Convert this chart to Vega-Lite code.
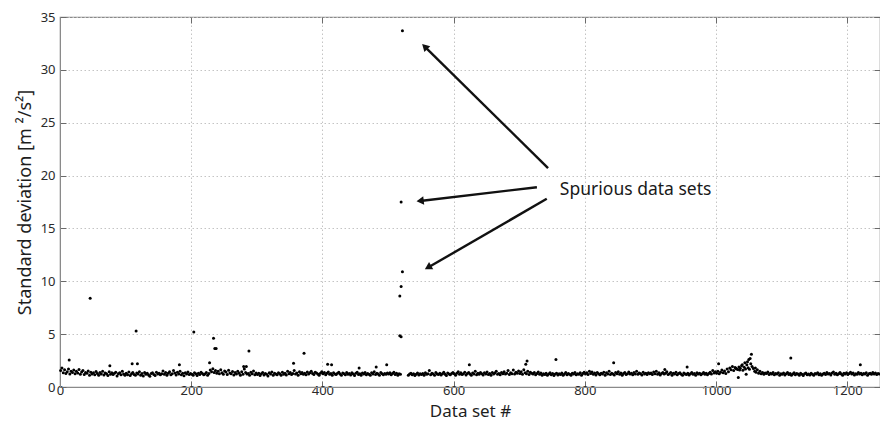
{
  "$schema": "https://vega.github.io/schema/vega-lite/v6.json",
  "width": 820,
  "height": 370,
  "autosize": {"type": "none"},
  "padding": {"left": 60, "top": 17, "right": 0, "bottom": 37},
  "background": "white",
  "config": {
    "font": "Noto Sans",
    "view": {"stroke": "#8a8a8a", "strokeWidth": 1.2},
    "axis": {
      "labelFont": "Noto Sans",
      "titleFont": "Noto Sans",
      "labelColor": "#2a2a2a",
      "titleColor": "#1e1e1e",
      "labelFontSize": 13,
      "titleFontSize": 17,
      "titleFontWeight": "normal",
      "domainColor": "#8a8a8a",
      "tickColor": "#6a6a6a",
      "tickSize": -6,
      "gridColor": "#c4c4c4",
      "gridDash": [1.5, 2.5],
      "gridWidth": 1
    }
  },
  "datasets": {
    "sets": [
      {"n":1,"s":1.55},{"n":3,"s":1.8},{"n":5,"s":1.35},{"n":7,"s":1.62},{"n":9,"s":1.28},{"n":11,"s":1.45},{"n":13,"s":1.7},{"n":15,"s":1.22},{"n":17,"s":1.5},{"n":19,"s":1.38},
      {"n":21,"s":1.6},{"n":23,"s":1.25},{"n":25,"s":1.48},{"n":27,"s":1.33},{"n":29,"s":1.66},{"n":31,"s":1.2},{"n":33,"s":1.42},{"n":35,"s":1.55},{"n":37,"s":1.18},{"n":39,"s":1.36},
      {"n":41,"s":1.3},{"n":43,"s":1.52},{"n":45,"s":1.12},{"n":47,"s":1.4},{"n":49,"s":1.24},{"n":51,"s":1.35},{"n":53,"s":1.15},{"n":55,"s":1.46},{"n":57,"s":1.28},{"n":59,"s":1.1},
      {"n":61,"s":1.38},{"n":63,"s":1.22},{"n":65,"s":1.5},{"n":67,"s":1.14},{"n":69,"s":1.32},{"n":71,"s":1.26},{"n":73,"s":1.08},{"n":75,"s":1.44},{"n":77,"s":1.2},{"n":79,"s":1.35},
      {"n":81,"s":1.18},{"n":83,"s":1.29},{"n":85,"s":1.4},{"n":87,"s":1.05},{"n":89,"s":1.25},{"n":91,"s":1.34},{"n":93,"s":1.16},{"n":95,"s":1.48},{"n":97,"s":1.22},{"n":99,"s":1.12},
      {"n":101,"s":1.3},{"n":103,"s":1.15},{"n":105,"s":1.42},{"n":107,"s":1.08},{"n":109,"s":1.26},{"n":111,"s":1.36},{"n":113,"s":1.19},{"n":115,"s":1.1},{"n":117,"s":1.33},{"n":119,"s":1.24},
      {"n":121,"s":1.45},{"n":123,"s":1.12},{"n":125,"s":1.28},{"n":127,"s":1.05},{"n":129,"s":1.38},{"n":131,"s":1.21},{"n":133,"s":1.3},{"n":135,"s":1.14},{"n":137,"s":1.02},{"n":139,"s":1.27},
      {"n":141,"s":1.35},{"n":143,"s":1.18},{"n":145,"s":1.09},{"n":147,"s":1.4},{"n":149,"s":1.23},{"n":151,"s":1.31},{"n":153,"s":1.15},{"n":155,"s":1.26},{"n":157,"s":1.52},{"n":159,"s":1.2},
      {"n":161,"s":1.37},{"n":163,"s":1.11},{"n":165,"s":1.29},{"n":167,"s":1.44},{"n":169,"s":1.17},{"n":171,"s":1.25},{"n":173,"s":1.55},{"n":175,"s":1.32},{"n":177,"s":1.13},{"n":179,"s":1.39},
      {"n":181,"s":1.22},{"n":183,"s":1.48},{"n":185,"s":1.16},{"n":187,"s":1.3},{"n":189,"s":1.06},{"n":191,"s":1.35},{"n":193,"s":1.24},{"n":195,"s":1.41},{"n":197,"s":1.19},{"n":199,"s":1.28},
      {"n":201,"s":1.2},{"n":203,"s":1.12},{"n":205,"s":1.34},{"n":207,"s":1.25},{"n":209,"s":1.08},{"n":211,"s":1.3},{"n":213,"s":1.18},{"n":215,"s":1.4},{"n":217,"s":1.27},{"n":219,"s":1.15},
      {"n":221,"s":1.22},{"n":223,"s":1.36},{"n":225,"s":1.1},{"n":227,"s":1.28},{"n":229,"s":1.6},{"n":231,"s":1.45},{"n":233,"s":1.72},{"n":235,"s":1.38},{"n":237,"s":1.55},{"n":239,"s":1.3},
      {"n":241,"s":1.48},{"n":243,"s":1.25},{"n":245,"s":1.62},{"n":247,"s":1.35},{"n":249,"s":1.2},{"n":251,"s":1.52},{"n":253,"s":1.42},{"n":255,"s":1.18},{"n":257,"s":1.58},{"n":259,"s":1.33},
      {"n":261,"s":1.26},{"n":263,"s":1.46},{"n":265,"s":1.14},{"n":267,"s":1.38},{"n":269,"s":1.24},{"n":271,"s":1.5},{"n":273,"s":1.3},{"n":275,"s":1.12},{"n":277,"s":1.44},{"n":279,"s":1.2},
      {"n":281,"s":1.7},{"n":283,"s":1.36},{"n":285,"s":1.22},{"n":287,"s":1.28},{"n":289,"s":1.1},{"n":291,"s":1.4},{"n":293,"s":1.25},{"n":295,"s":1.52},{"n":297,"s":1.16},{"n":299,"s":1.32},
      {"n":301,"s":1.18},{"n":303,"s":1.3},{"n":305,"s":1.08},{"n":307,"s":1.25},{"n":309,"s":1.38},{"n":311,"s":1.14},{"n":313,"s":1.28},{"n":315,"s":1.2},{"n":317,"s":1.05},{"n":319,"s":1.35},
      {"n":321,"s":1.24},{"n":323,"s":1.42},{"n":325,"s":1.12},{"n":327,"s":1.3},{"n":329,"s":1.22},{"n":331,"s":1.16},{"n":333,"s":1.34},{"n":335,"s":1.26},{"n":337,"s":1.1},{"n":339,"s":1.4},
      {"n":341,"s":1.2},{"n":343,"s":1.3},{"n":345,"s":1.14},{"n":347,"s":1.48},{"n":349,"s":1.25},{"n":351,"s":1.36},{"n":353,"s":1.18},{"n":355,"s":1.28},{"n":357,"s":1.55},{"n":359,"s":1.22},
      {"n":361,"s":1.32},{"n":363,"s":1.12},{"n":365,"s":1.44},{"n":367,"s":1.26},{"n":369,"s":1.38},{"n":371,"s":1.2},{"n":373,"s":1.3},{"n":375,"s":1.15},{"n":377,"s":1.42},{"n":379,"s":1.24},
      {"n":381,"s":1.35},{"n":383,"s":1.5},{"n":385,"s":1.28},{"n":387,"s":1.18},{"n":389,"s":1.4},{"n":391,"s":1.32},{"n":393,"s":1.22},{"n":395,"s":1.12},{"n":397,"s":1.3},{"n":399,"s":1.45},
      {"n":401,"s":1.25},{"n":403,"s":1.38},{"n":405,"s":1.15},{"n":407,"s":1.3},{"n":409,"s":1.42},{"n":411,"s":1.2},{"n":413,"s":1.28},{"n":415,"s":1.12},{"n":417,"s":1.35},{"n":419,"s":1.24},
      {"n":421,"s":1.18},{"n":423,"s":1.3},{"n":425,"s":1.4},{"n":427,"s":1.22},{"n":429,"s":1.1},{"n":431,"s":1.32},{"n":433,"s":1.26},{"n":435,"s":1.16},{"n":437,"s":1.36},{"n":439,"s":1.2},
      {"n":441,"s":1.28},{"n":443,"s":1.14},{"n":445,"s":1.34},{"n":447,"s":1.22},{"n":449,"s":1.08},{"n":451,"s":1.3},{"n":453,"s":1.4},{"n":455,"s":1.18},{"n":457,"s":1.26},{"n":459,"s":1.12},
      {"n":461,"s":1.32},{"n":463,"s":1.22},{"n":465,"s":1.38},{"n":467,"s":1.15},{"n":469,"s":1.28},{"n":471,"s":1.2},{"n":473,"s":1.1},{"n":475,"s":1.34},{"n":477,"s":1.24},{"n":479,"s":1.44},
      {"n":481,"s":1.18},{"n":483,"s":1.3},{"n":485,"s":1.22},{"n":487,"s":1.12},{"n":489,"s":1.36},{"n":491,"s":1.26},{"n":493,"s":1.16},{"n":495,"s":1.28},{"n":497,"s":1.2},{"n":499,"s":1.32},
      {"n":501,"s":1.22},{"n":503,"s":1.35},{"n":505,"s":1.15},{"n":507,"s":1.28},{"n":509,"s":1.4},{"n":511,"s":1.18},{"n":513,"s":1.3},{"n":515,"s":1.12},{"n":517,"s":1.25},{"n":519,"s":1.2},
      {"n":531,"s":1.1},{"n":533,"s":1.22},{"n":535,"s":1.3},{"n":537,"s":1.15},{"n":539,"s":1.26},
      {"n":541,"s":1.08},{"n":543,"s":1.2},{"n":545,"s":1.32},{"n":547,"s":1.14},{"n":549,"s":1.25},{"n":551,"s":1.18},{"n":553,"s":1.28},{"n":555,"s":1.1},{"n":557,"s":1.34},{"n":559,"s":1.2},
      {"n":561,"s":1.26},{"n":563,"s":1.55},{"n":565,"s":1.16},{"n":567,"s":1.3},{"n":569,"s":1.22},{"n":571,"s":1.12},{"n":573,"s":1.36},{"n":575,"s":1.24},{"n":577,"s":1.18},{"n":579,"s":1.3},
      {"n":581,"s":1.14},{"n":583,"s":1.26},{"n":585,"s":1.4},{"n":587,"s":1.2},{"n":589,"s":1.08},{"n":591,"s":1.32},{"n":593,"s":1.22},{"n":595,"s":1.15},{"n":597,"s":1.28},{"n":599,"s":1.38},
      {"n":601,"s":1.25},{"n":603,"s":1.12},{"n":605,"s":1.3},{"n":607,"s":1.45},{"n":609,"s":1.2},{"n":611,"s":1.34},{"n":613,"s":1.18},{"n":615,"s":1.26},{"n":617,"s":1.4},{"n":619,"s":1.14},
      {"n":621,"s":1.28},{"n":623,"s":1.36},{"n":625,"s":1.22},{"n":627,"s":1.1},{"n":629,"s":1.32},{"n":631,"s":1.24},{"n":633,"s":1.48},{"n":635,"s":1.16},{"n":637,"s":1.3},{"n":639,"s":1.2},
      {"n":641,"s":1.38},{"n":643,"s":1.26},{"n":645,"s":1.14},{"n":647,"s":1.34},{"n":649,"s":1.22},{"n":651,"s":1.42},{"n":653,"s":1.18},{"n":655,"s":1.28},{"n":657,"s":1.1},{"n":659,"s":1.36},
      {"n":661,"s":1.24},{"n":663,"s":1.32},{"n":665,"s":1.5},{"n":667,"s":1.2},{"n":669,"s":1.28},{"n":671,"s":1.16},{"n":673,"s":1.38},{"n":675,"s":1.26},{"n":677,"s":1.44},{"n":679,"s":1.22},
      {"n":681,"s":1.3},{"n":683,"s":1.55},{"n":685,"s":1.18},{"n":687,"s":1.35},{"n":689,"s":1.26},{"n":691,"s":1.6},{"n":693,"s":1.22},{"n":695,"s":1.4},{"n":697,"s":1.3},{"n":699,"s":1.52},
      {"n":701,"s":1.28},{"n":703,"s":1.45},{"n":705,"s":1.2},{"n":707,"s":1.62},{"n":709,"s":1.35},{"n":711,"s":1.25},{"n":713,"s":1.5},{"n":715,"s":1.18},{"n":717,"s":1.4},{"n":719,"s":1.3},
      {"n":721,"s":1.22},{"n":723,"s":1.36},{"n":725,"s":1.15},{"n":727,"s":1.28},{"n":729,"s":1.42},{"n":731,"s":1.2},{"n":733,"s":1.32},{"n":735,"s":1.12},{"n":737,"s":1.26},{"n":739,"s":1.18},
      {"n":741,"s":1.3},{"n":743,"s":1.1},{"n":745,"s":1.24},{"n":747,"s":1.34},{"n":749,"s":1.16},{"n":751,"s":1.28},{"n":753,"s":1.08},{"n":755,"s":1.22},{"n":757,"s":1.3},{"n":759,"s":1.14},
      {"n":761,"s":1.26},{"n":763,"s":1.18},{"n":765,"s":1.32},{"n":767,"s":1.1},{"n":769,"s":1.24},{"n":771,"s":1.36},{"n":773,"s":1.16},{"n":775,"s":1.28},{"n":777,"s":1.2},{"n":779,"s":1.12},
      {"n":781,"s":1.3},{"n":783,"s":1.22},{"n":785,"s":1.38},{"n":787,"s":1.15},{"n":789,"s":1.26},{"n":791,"s":1.2},{"n":793,"s":1.34},{"n":795,"s":1.1},{"n":797,"s":1.28},{"n":799,"s":1.4},
      {"n":801,"s":1.22},{"n":803,"s":1.35},{"n":805,"s":1.18},{"n":807,"s":1.5},{"n":809,"s":1.28},{"n":811,"s":1.42},{"n":813,"s":1.2},{"n":815,"s":1.32},{"n":817,"s":1.14},{"n":819,"s":1.38},
      {"n":821,"s":1.26},{"n":823,"s":1.16},{"n":825,"s":1.3},{"n":827,"s":1.22},{"n":829,"s":1.4},{"n":831,"s":1.12},{"n":833,"s":1.34},{"n":835,"s":1.24},{"n":837,"s":1.48},{"n":839,"s":1.18},
      {"n":841,"s":1.3},{"n":843,"s":1.22},{"n":845,"s":1.14},{"n":847,"s":1.36},{"n":849,"s":1.26},{"n":851,"s":1.45},{"n":853,"s":1.2},{"n":855,"s":1.32},{"n":857,"s":1.1},{"n":859,"s":1.28},
      {"n":861,"s":1.38},{"n":863,"s":1.18},{"n":865,"s":1.26},{"n":867,"s":1.42},{"n":869,"s":1.22},{"n":871,"s":1.3},{"n":873,"s":1.15},{"n":875,"s":1.36},{"n":877,"s":1.24},{"n":879,"s":1.48},
      {"n":881,"s":1.2},{"n":883,"s":1.32},{"n":885,"s":1.26},{"n":887,"s":1.14},{"n":889,"s":1.4},{"n":891,"s":1.22},{"n":893,"s":1.3},{"n":895,"s":1.18},{"n":897,"s":1.35},{"n":899,"s":1.25},
      {"n":901,"s":1.32},{"n":903,"s":1.18},{"n":905,"s":1.42},{"n":907,"s":1.26},{"n":909,"s":1.5},{"n":911,"s":1.2},{"n":913,"s":1.34},{"n":915,"s":1.14},{"n":917,"s":1.28},{"n":919,"s":1.38},
      {"n":921,"s":1.22},{"n":923,"s":1.3},{"n":925,"s":1.45},{"n":927,"s":1.18},{"n":929,"s":1.26},{"n":931,"s":1.36},{"n":933,"s":1.12},{"n":935,"s":1.3},{"n":937,"s":1.22},{"n":939,"s":1.4},
      {"n":941,"s":1.16},{"n":943,"s":1.28},{"n":945,"s":1.34},{"n":947,"s":1.2},{"n":949,"s":1.1},{"n":951,"s":1.32},{"n":953,"s":1.24},{"n":955,"s":1.18},{"n":957,"s":1.3},{"n":959,"s":1.14},
      {"n":961,"s":1.26},{"n":963,"s":1.36},{"n":965,"s":1.2},{"n":967,"s":1.28},{"n":969,"s":1.12},{"n":971,"s":1.34},{"n":973,"s":1.22},{"n":975,"s":1.3},{"n":977,"s":1.16},{"n":979,"s":1.25},
      {"n":981,"s":1.38},{"n":983,"s":1.2},{"n":985,"s":1.3},{"n":987,"s":1.15},{"n":989,"s":1.28},{"n":991,"s":1.4},{"n":993,"s":1.22},{"n":995,"s":1.55},{"n":997,"s":1.32},{"n":999,"s":1.45},
      {"n":1001,"s":1.3},{"n":1003,"s":1.48},{"n":1005,"s":1.25},{"n":1007,"s":1.4},{"n":1009,"s":1.6},{"n":1011,"s":1.35},{"n":1013,"s":1.52},{"n":1015,"s":1.28},{"n":1017,"s":1.7},{"n":1019,"s":1.45},
      {"n":1021,"s":1.8},{"n":1023,"s":1.62},{"n":1025,"s":1.95},{"n":1027,"s":1.55},{"n":1029,"s":1.85},{"n":1031,"s":1.72},{"n":1033,"s":1.65},{"n":1035,"s":1.9},{"n":1037,"s":1.78},{"n":1039,"s":2.0},
      {"n":1041,"s":1.58},{"n":1043,"s":1.88},{"n":1045,"s":1.7},{"n":1047,"s":2.1},{"n":1049,"s":1.82},{"n":1051,"s":1.68},{"n":1053,"s":2.2},{"n":1055,"s":1.95},{"n":1057,"s":1.75},{"n":1059,"s":1.5},
      {"n":1061,"s":1.4},{"n":1063,"s":1.62},{"n":1065,"s":1.3},{"n":1067,"s":1.48},{"n":1069,"s":1.25},{"n":1071,"s":1.38},{"n":1073,"s":1.2},{"n":1075,"s":1.32},{"n":1077,"s":1.28},{"n":1079,"s":1.42},
      {"n":1081,"s":1.18},{"n":1083,"s":1.3},{"n":1085,"s":1.24},{"n":1087,"s":1.36},{"n":1089,"s":1.15},{"n":1091,"s":1.28},{"n":1093,"s":1.22},{"n":1095,"s":1.34},{"n":1097,"s":1.12},{"n":1099,"s":1.26},
      {"n":1101,"s":1.2},{"n":1103,"s":1.32},{"n":1105,"s":1.14},{"n":1107,"s":1.26},{"n":1109,"s":1.38},{"n":1111,"s":1.18},{"n":1113,"s":1.28},{"n":1115,"s":1.1},{"n":1117,"s":1.24},{"n":1119,"s":1.34},
      {"n":1121,"s":1.16},{"n":1123,"s":1.28},{"n":1125,"s":1.22},{"n":1127,"s":1.12},{"n":1129,"s":1.3},{"n":1131,"s":1.2},{"n":1133,"s":1.08},{"n":1135,"s":1.26},{"n":1137,"s":1.32},{"n":1139,"s":1.16},
      {"n":1141,"s":1.24},{"n":1143,"s":1.14},{"n":1145,"s":1.3},{"n":1147,"s":1.2},{"n":1149,"s":1.1},{"n":1151,"s":1.28},{"n":1153,"s":1.22},{"n":1155,"s":1.34},{"n":1157,"s":1.16},{"n":1159,"s":1.26},
      {"n":1161,"s":1.12},{"n":1163,"s":1.24},{"n":1165,"s":1.3},{"n":1167,"s":1.18},{"n":1169,"s":1.36},{"n":1171,"s":1.22},{"n":1173,"s":1.28},{"n":1175,"s":1.14},{"n":1177,"s":1.32},{"n":1179,"s":1.42},
      {"n":1181,"s":1.2},{"n":1183,"s":1.3},{"n":1185,"s":1.16},{"n":1187,"s":1.26},{"n":1189,"s":1.38},{"n":1191,"s":1.22},{"n":1193,"s":1.12},{"n":1195,"s":1.3},{"n":1197,"s":1.24},{"n":1199,"s":1.35},
      {"n":1201,"s":1.18},{"n":1203,"s":1.28},{"n":1205,"s":1.4},{"n":1207,"s":1.22},{"n":1209,"s":1.32},{"n":1211,"s":1.14},{"n":1213,"s":1.26},{"n":1215,"s":1.2},{"n":1217,"s":1.36},{"n":1219,"s":1.24},
      {"n":1221,"s":1.3},{"n":1223,"s":1.16},{"n":1225,"s":1.28},{"n":1227,"s":1.22},{"n":1229,"s":1.34},{"n":1231,"s":1.12},{"n":1233,"s":1.26},{"n":1235,"s":1.3},{"n":1237,"s":1.2},{"n":1239,"s":1.38},
      {"n":1241,"s":1.24},{"n":1243,"s":1.32},{"n":1245,"s":1.18},{"n":1247,"s":1.28},{"n":1249,"s":1.22},
      {"n":14,"s":2.55},{"n":46,"s":8.4},{"n":76,"s":2.0},{"n":110,"s":2.2},{"n":118,"s":2.2},{"n":116,"s":5.3},{"n":182,"s":2.1},
      {"n":204,"s":5.2},{"n":228,"s":2.3},{"n":234,"s":4.6},{"n":236,"s":3.65},{"n":238,"s":3.65},{"n":288,"s":3.4},{"n":280,"s":1.95},{"n":284,"s":1.95},
      {"n":356,"s":2.25},{"n":372,"s":3.2},{"n":408,"s":2.15},{"n":414,"s":2.1},{"n":456,"s":1.8},{"n":482,"s":1.9},{"n":498,"s":2.1},
      {"n":518,"s":4.85},{"n":520,"s":4.75},{"n":518,"s":8.6},{"n":520,"s":9.5},{"n":522,"s":10.9},{"n":520,"s":17.5},{"n":522,"s":33.7},
      {"n":624,"s":2.1},{"n":710,"s":2.15},{"n":712,"s":2.45},{"n":756,"s":2.6},{"n":844,"s":2.3},{"n":922,"s":1.65},{"n":956,"s":1.9},
      {"n":1004,"s":2.2},{"n":1030,"s":1.8},{"n":1034,"s":0.9},{"n":1036,"s":1.6},{"n":1040,"s":2.1},{"n":1044,"s":2.3},{"n":1046,"s":1.2},
      {"n":1048,"s":2.4},{"n":1050,"s":2.6},{"n":1052,"s":2.7},{"n":1054,"s":3.1},{"n":1060,"s":1.8},{"n":1114,"s":2.75},{"n":1220,"s":2.1}
    ],
    "arrows": [
      {"x": 744, "y": 20.7, "x2": 556, "y2": 32.2},
      {"x": 727, "y": 18.9, "x2": 549, "y2": 17.6},
      {"x": 742, "y": 17.8, "x2": 561, "y2": 11.3}
    ],
    "note": [
      {"x": 762, "y": 18.6, "text": "Spurious data sets"}
    ]
  },
  "layer": [
    {
      "data": {"name": "sets"},
      "mark": {"type": "point", "filled": true, "shape": "circle", "size": 9, "color": "#000000", "opacity": 1},
      "encoding": {
        "x": {
          "field": "n", "type": "quantitative",
          "scale": {"domain": [0, 1250], "nice": false, "zero": false},
          "axis": {"title": "Data set #", "format": "d", "values": [0, 200, 400, 600, 800, 1000, 1200], "grid": true, "labelPadding": 3, "titlePadding": 6, "labelFlush": false, "labelOverlap": false}
        },
        "y": {
          "field": "s", "type": "quantitative",
          "scale": {"domain": [0, 35], "nice": false},
          "axis": {"title": "Standard deviation [m  ²/s²]", "titleFontSize": 18, "format": "d", "values": [0, 5, 10, 15, 20, 25, 30, 35], "grid": true, "labelPadding": 11, "titlePadding": 6, "labelFlush": false, "labelOverlap": false}
        }
      }
    },
    {
      "data": {"name": "arrows"},
      "mark": {"type": "rule", "color": "#111111", "strokeWidth": 2.4},
      "encoding": {
        "x": {
          "field": "x", "type": "quantitative",
          "scale": {"domain": [0, 1250], "nice": false, "zero": false},
          "axis": {"orient": "top", "title": null, "labels": false, "grid": false, "domain": false, "values": [0, 200, 400, 600, 800, 1000, 1200]}
        },
        "y": {
          "field": "y", "type": "quantitative",
          "scale": {"domain": [0, 35], "nice": false},
          "axis": {"orient": "right", "title": null, "labels": false, "grid": false, "domain": false, "values": [0, 5, 10, 15, 20, 25, 30, 35]}
        },
        "x2": {"field": "x2"},
        "y2": {"field": "y2"}
      }
    },
    {
      "data": {"name": "arrows"},
      "transform": [
        {"calculate": "atan2((datum.x2 - datum.x) * 0.656, (datum.y2 - datum.y) * 10.571) * 180 / PI", "as": "heading"}
      ],
      "mark": {"type": "point", "shape": "triangle-up", "filled": true, "size": 70, "color": "#111111", "opacity": 1},
      "encoding": {
        "x": {"field": "x2", "type": "quantitative", "axis": null},
        "y": {"field": "y2", "type": "quantitative", "axis": null},
        "angle": {"field": "heading", "type": "quantitative", "scale": null}
      }
    },
    {
      "data": {"name": "note"},
      "mark": {"type": "text", "align": "left", "baseline": "middle", "font": "Noto Sans", "fontSize": 17.5, "color": "#1a1a1a"},
      "encoding": {
        "x": {"field": "x", "type": "quantitative", "axis": null},
        "y": {"field": "y", "type": "quantitative", "axis": null},
        "text": {"field": "text"}
      }
    }
  ],
  "resolve": {"axis": {"x": "independent", "y": "independent"}}
}
